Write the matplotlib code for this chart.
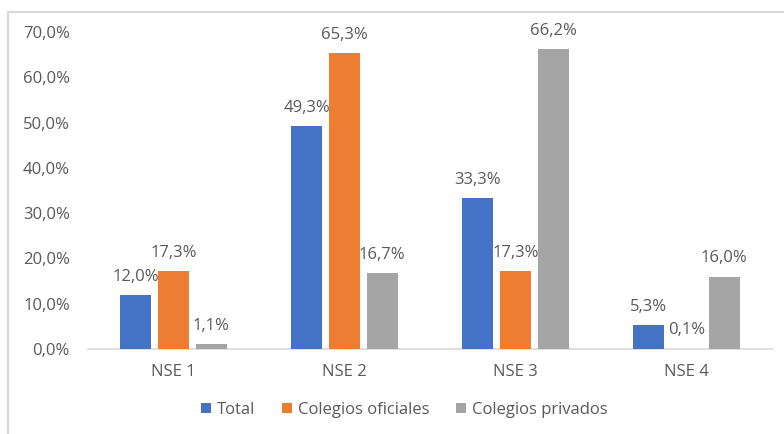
import matplotlib
matplotlib.use("Agg")
import matplotlib.pyplot as plt
from matplotlib.patches import Rectangle
import numpy as np

categories = ["NSE 1", "NSE 2", "NSE 3", "NSE 4"]
series_names = ["Total", "Colegios oficiales", "Colegios privados"]
total = [12.0, 49.3, 33.3, 5.3]
oficiales = [17.3, 65.3, 17.3, 0.1]
privados = [1.1, 16.7, 66.2, 16.0]
y_ticks = [0, 10, 20, 30, 40, 50, 60, 70]

colors = ["#4472C4", "#ED7D31", "#A5A5A5"]
text_color = "#595959"
fs = 12

plt.rcParams["font.family"] = ["Open Sans", "DejaVu Sans"]

fig = plt.figure(figsize=(7.84, 4.34), dpi=100)
fig.patch.set_facecolor("white")

# chart frame
frame = Rectangle((8 / 784, -0.1), 1.2, 1 - 12 / 434 + 0.1, transform=fig.transFigure,
                  fill=False, edgecolor="#d9d9d9", linewidth=1.5)
fig.add_artist(frame)

ax = fig.add_axes([88 / 784, 1 - 349 / 434, (772 - 88) / 784, (349 - 32) / 434])

x = np.arange(len(categories))
width = 0.18
step = 0.22
for i, (vals, name) in enumerate(zip([total, oficiales, privados], series_names)):
    pos = x + (i - 1) * step
    ax.bar(pos, vals, width=width, color=colors[i], label=name, zorder=3)
    for px, v in zip(pos, vals):
        ax.annotate(f"{v:.1f}".replace(".", ",") + "%", (px, v),
                    xytext=(0, 13), textcoords="offset points",
                    ha="center", va="center", fontsize=fs, color=text_color)

ax.set_xlim(-0.5, len(categories) - 0.5)
ax.set_ylim(0, 70)
ax.set_yticks(y_ticks)
ax.set_yticklabels([f"{t:.1f}".replace(".", ",") + "%" for t in y_ticks])
ax.set_xticks(x)
ax.set_xticklabels(categories)
ax.tick_params(axis="both", length=0, colors=text_color, labelsize=fs)
ax.tick_params(axis="y", pad=13)
ax.tick_params(axis="x", pad=11)

for side in ["top", "right", "left"]:
    ax.spines[side].set_visible(False)
ax.spines["bottom"].set_color("#d9d9d9")
ax.spines["bottom"].set_linewidth(1.2)

leg = fig.legend(loc="center", bbox_to_anchor=(404 / 784, 1 - 410 / 434), ncol=3,
                 frameon=False, fontsize=fs, handlelength=0.6, handleheight=0.6,
                 handletextpad=0.35, columnspacing=1.6)
for t in leg.get_texts():
    t.set_color(text_color)

fig.savefig("out.png", dpi=100)
